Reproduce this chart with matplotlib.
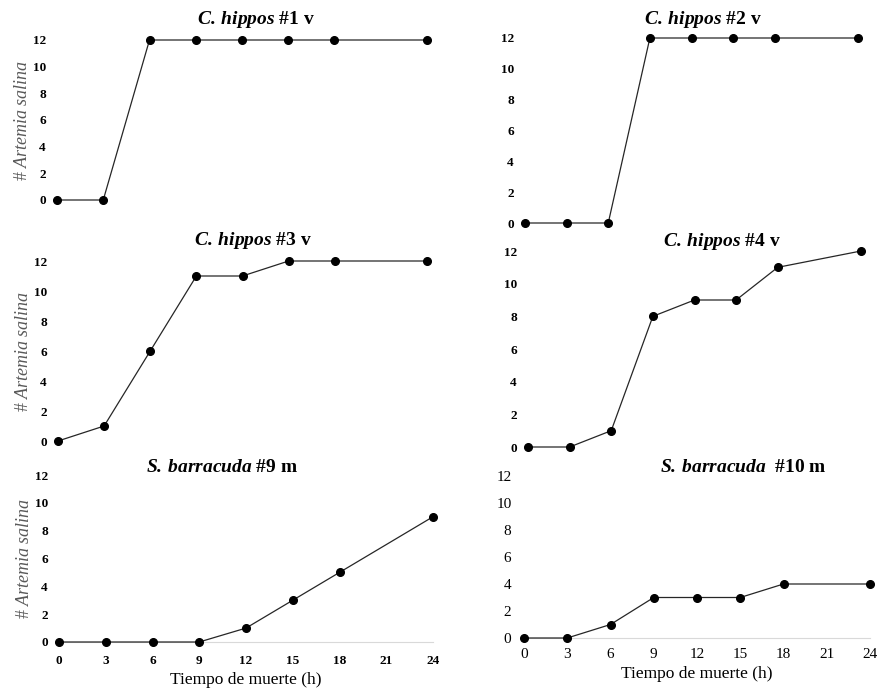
import matplotlib
matplotlib.use('Agg')
import matplotlib.pyplot as plt

plt.rcParams['font.family'] = ['Liberation Serif', 'DejaVu Serif']
plt.rcParams['mathtext.fontset'] = 'custom'
plt.rcParams['mathtext.rm'] = 'Liberation Serif'
plt.rcParams['mathtext.it'] = 'Liberation Serif:italic'
plt.rcParams['mathtext.bf'] = 'Liberation Serif:bold'
plt.rcParams['mathtext.bfit'] = 'Liberation Serif:bold:italic'

hours = [0, 3, 6, 9, 12, 15, 18, 24]
xticks = [0, 3, 6, 9, 12, 15, 18, 21, 24]
yticks = [0, 2, 4, 6, 8, 10, 12]

hippos_1 = [0, 0, 12, 12, 12, 12, 12, 12]
hippos_2 = [0, 0, 0, 12, 12, 12, 12, 12]
hippos_3 = [0, 1, 6, 11, 11, 12, 12, 12]
hippos_4 = [0, 0, 1, 8, 9, 9, 11, 12]
barracuda_9 = [0, 0, 0, 0, 1, 3, 5, 9]
barracuda_10 = [0, 0, 1, 3, 3, 3, 4, 4]

titles = [r'$\mathbfit{C.\:hippos}$ #1 v', r'$\mathbfit{C.\:hippos}$ #2 v',
          r'$\mathbfit{C.\:hippos}$ #3 v', r'$\mathbfit{C.\:hippos}$ #4 v',
          r'$\mathbfit{S.\:barracuda}$ #9 m', r'$\mathbfit{S.\:barracuda}$  #10 m']
series = [hippos_1, hippos_2, hippos_3, hippos_4, barracuda_9, barracuda_10]

W, H = 877, 694
# pixel boxes: x at 0 h, x at 24 h, y at 0, y at 12, title centre x, title centre y
boxes = [
    (57, 427, 200, 40, 256, 20),
    (525, 858, 223, 38, 703, 20),
    (58, 427, 441, 261, 253, 240),
    (528, 861, 447, 251, 722, 241),
    (59, 433, 642, 475, 222, 467),
    (524, 870, 638, 476, 743, 468),
]

fig = plt.figure(figsize=(W / 100, H / 100), dpi=100)

for i, (ys, title, box) in enumerate(zip(series, titles, boxes)):
    x0, x1, y0, y1, tx, ty = box
    ax = fig.add_axes([x0 / W, 1 - y0 / H, (x1 - x0) / W, (y0 - y1) / H])
    ax.plot(hours, ys, color='#262626', lw=0.9, marker='o', ms=5.5,
            mfc='black', mec='black', clip_on=False, zorder=3)
    ax.set_xlim(0, 24)
    ax.set_ylim(0, 12)
    for s in ['top', 'right', 'left', 'bottom']:
        ax.spines[s].set_visible(False)
    ax.set_yticks(yticks)
    bold = i != 5
    ax.tick_params(axis='y', length=0, pad=8 if bold else 9)
    for lab in ax.get_yticklabels():
        lab.set_fontsize(9.5 if bold else 11)
        lab.set_fontweight('bold' if bold else 'normal')
    if i >= 4:
        ax.spines['bottom'].set_visible(True)
        ax.spines['bottom'].set_color('#d9d9d9')
        ax.spines['bottom'].set_linewidth(0.8)
        ax.set_xticks(xticks)
        ax.tick_params(axis='x', length=0, pad=9 if bold else 7)
        for lab in ax.get_xticklabels():
            lab.set_fontsize(9.5 if bold else 11)
            lab.set_fontweight('bold' if bold else 'normal')
        ax.set_xlabel('Tiempo de muerte (h)', fontsize=12.5, labelpad=4)
    else:
        ax.set_xticks([])
    if i % 2 == 0:
        ax.set_ylabel(r'# $\mathit{Artemia\ salina}$', fontsize=13,
                      color='#595959', labelpad=1)
    fig.text(tx / W, 1 - ty / H, title, fontsize=14, fontweight='bold',
             ha='center', va='center')

fig.savefig('out.png', dpi=100)
